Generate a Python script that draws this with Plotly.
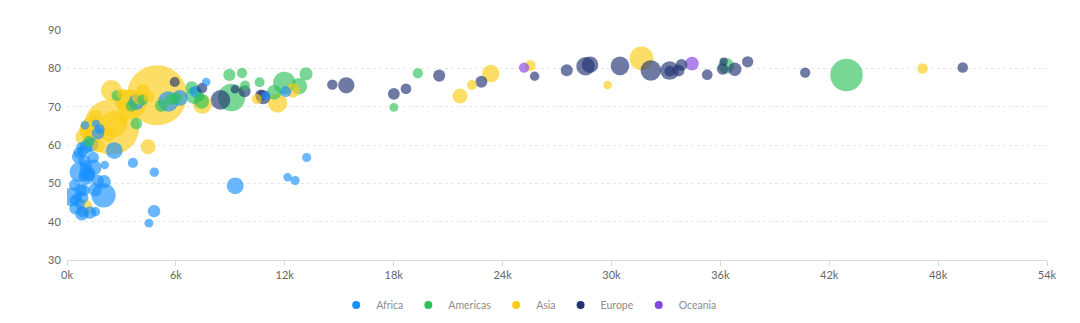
import numpy as np
import plotly.graph_objects as go

country = ["Afghanistan", "Albania", "Algeria", "Angola", "Argentina", "Australia", "Austria", "Bahrain",
           "Bangladesh", "Belgium", "Benin", "Bolivia", "Bosnia and Herzegovina", "Botswana", "Brazil",
           "Bulgaria", "Burkina Faso", "Burundi", "Cambodia", "Cameroon", "Canada", "Central African Republic",
           "Chad", "Chile", "China", "Colombia", "Comoros", "Congo, Dem. Rep.", "Congo, Rep.", "Costa Rica",
           "Cote d'Ivoire", "Croatia", "Cuba", "Czech Republic", "Denmark", "Djibouti", "Dominican Republic",
           "Ecuador", "Egypt", "El Salvador", "Equatorial Guinea", "Eritrea", "Ethiopia", "Finland", "France",
           "Gabon", "Gambia", "Germany", "Ghana", "Greece", "Guatemala", "Guinea", "Guinea-Bissau", "Haiti",
           "Honduras", "Hungary", "Iceland", "India", "Indonesia", "Iran", "Iraq", "Ireland", "Israel", "Italy",
           "Jamaica", "Japan", "Jordan", "Kenya", "Korea, Dem. Rep.", "Korea, Rep.", "Lebanon", "Lesotho",
           "Liberia", "Libya", "Madagascar", "Malawi", "Malaysia", "Mali", "Mauritania", "Mauritius", "Mexico",
           "Mongolia", "Montenegro", "Morocco", "Mozambique", "Myanmar", "Namibia", "Nepal", "Netherlands",
           "New Zealand", "Nicaragua", "Niger", "Nigeria", "Norway", "Oman", "Pakistan", "Panama", "Paraguay",
           "Peru", "Philippines", "Poland", "Portugal", "Puerto Rico", "Reunion", "Romania", "Rwanda",
           "Sao Tome and Principe", "Saudi Arabia", "Senegal", "Serbia", "Sierra Leone", "Singapore",
           "Slovak Republic", "Slovenia", "Somalia", "South Africa", "Spain", "Sri Lanka", "Sudan", "Swaziland",
           "Sweden", "Switzerland", "Syria", "Tanzania", "Thailand", "Togo", "Trinidad and Tobago", "Tunisia",
           "Turkey", "Uganda", "United Kingdom", "United States", "Uruguay", "Venezuela", "Vietnam",
           "West Bank and Gaza", "Yemen, Rep.", "Zambia", "Zimbabwe"]

continent = ["Asia", "Europe", "Africa", "Africa", "Americas", "Oceania", "Europe", "Asia",
             "Asia", "Europe", "Africa", "Americas", "Europe", "Africa", "Americas",
             "Europe", "Africa", "Africa", "Asia", "Africa", "Americas", "Africa",
             "Africa", "Americas", "Asia", "Americas", "Africa", "Africa", "Africa", "Americas",
             "Africa", "Europe", "Americas", "Europe", "Europe", "Africa", "Americas",
             "Americas", "Africa", "Americas", "Africa", "Africa", "Africa", "Europe", "Europe",
             "Africa", "Africa", "Europe", "Africa", "Europe", "Americas", "Africa", "Africa", "Americas",
             "Americas", "Europe", "Europe", "Asia", "Asia", "Asia", "Asia", "Europe", "Asia", "Europe",
             "Americas", "Asia", "Asia", "Africa", "Asia", "Asia", "Asia", "Africa",
             "Africa", "Africa", "Africa", "Africa", "Asia", "Africa", "Africa", "Africa", "Americas",
             "Asia", "Europe", "Africa", "Africa", "Asia", "Africa", "Asia", "Europe",
             "Oceania", "Americas", "Africa", "Africa", "Europe", "Asia", "Asia", "Americas", "Americas",
             "Americas", "Asia", "Europe", "Europe", "Americas", "Africa", "Europe", "Africa",
             "Africa", "Asia", "Africa", "Europe", "Africa", "Asia",
             "Europe", "Europe", "Africa", "Africa", "Europe", "Asia", "Africa", "Africa",
             "Europe", "Europe", "Asia", "Africa", "Asia", "Africa", "Americas", "Africa",
             "Europe", "Africa", "Europe", "Americas", "Americas", "Americas", "Asia",
             "Asia", "Asia", "Africa", "Africa"]

life_expectancy = [43.828, 76.423, 72.301, 42.731, 75.320, 81.235, 79.829, 75.635,
                   64.062, 79.441, 56.728, 65.554, 74.852, 50.728, 72.390,
                   73.005, 52.295, 49.580, 59.723, 50.430, 80.653, 44.741,
                   50.651, 78.553, 72.961, 72.889, 65.152, 46.462, 55.322, 78.782,
                   48.328, 75.748, 78.273, 76.486, 78.332, 54.791, 72.235,
                   74.994, 71.338, 71.878, 51.579, 58.040, 52.947, 79.313, 80.657,
                   56.735, 59.448, 79.406, 60.022, 79.483, 70.259, 56.007, 46.388, 60.916,
                   70.198, 73.338, 81.757, 64.698, 70.650, 70.964, 59.545, 78.885, 80.745, 80.546,
                   72.567, 82.603, 72.535, 54.110, 67.297, 78.623, 71.993, 42.592,
                   45.678, 73.952, 59.443, 48.303, 74.241, 54.467, 64.164, 72.801, 76.195,
                   66.803, 74.543, 71.164, 42.082, 62.069, 52.906, 63.785, 79.762,
                   80.204, 72.899, 56.867, 46.859, 80.196, 75.640, 65.483, 75.537, 71.752,
                   71.421, 71.688, 75.563, 78.098, 78.746, 76.442, 72.476, 46.242,
                   65.528, 72.777, 63.062, 74.002, 42.568, 79.972,
                   74.663, 77.926, 48.159, 49.339, 80.941, 72.396, 58.556, 39.613,
                   80.884, 81.701, 74.143, 52.517, 70.616, 58.420, 69.819, 73.923,
                   71.777, 51.542, 79.425, 78.242, 76.384, 73.747, 74.249,
                   73.422, 62.698, 42.384, 43.487]

gdp_per_capita = [975, 5937, 6223, 4797, 12779, 34435, 36126, 29796,
                  1391, 33693, 1441, 3822, 7446, 12570, 9066,
                  10681, 1217, 430, 1714, 2042, 36319, 706,
                  1704, 13172, 4959, 7007, 986, 278, 3633, 9645,
                  1545, 14619, 8948, 22833, 35278, 2082, 6025,
                  6873, 5581, 5728, 12154, 641, 691, 33207, 30470,
                  13206, 753, 32170, 1328, 27538, 5186, 943, 579, 1202,
                  3548, 18009, 36181, 2452, 3541, 11606, 4471, 40676, 25523, 28570,
                  7321, 31656, 4519, 1463, 1593, 23348, 10461, 1569,
                  415, 12057, 1045, 759, 12452, 1043, 1803, 10957, 11978,
                  3096, 9254, 3820, 824, 944, 4811, 1091, 36798,
                  25185, 2749, 620, 2014, 49357, 22316, 2606, 9809, 4173,
                  7409, 3190, 15390, 20510, 19329, 7670, 10808, 863,
                  1598, 21655, 1712, 9787, 863, 47143,
                  18678, 25768, 926, 9270, 28821, 3970, 2602, 4513,
                  33860, 37506, 4185, 1107, 7458, 883, 18009, 7093,
                  8458, 1056, 33203, 42952, 10611, 11416, 2442,
                  3025, 2281, 1271, 470]

population = [31889923, 3600523, 33333216, 12420476, 40301927, 20434176, 8199783, 708573,
              150448339, 10392226, 8078314, 9119152, 4552198, 1639131, 190010647,
              7322858, 14326203, 8390505, 14131858, 17696293, 33390141, 4369038,
              10238807, 16284741, 1318683096, 44227550, 710960, 64606759, 3800610, 4133884,
              18013409, 4493312, 11416987, 10228744, 5468120, 496374, 9319622,
              13755680, 80264543, 6939688, 551201, 4906585, 76511887, 5238460, 61083916,
              1454867, 1688359, 82400996, 22873338, 10706290, 12572928, 9947814, 1472041, 8502814,
              7483763, 9956108, 301931, 1110396331, 223547000, 69453570, 27499638, 4109086, 6426679, 58147733,
              2780132, 127467972, 6053193, 35610177, 23301725, 49044790, 3921278, 2012649,
              3193942, 6036914, 19167654, 13327079, 24821286, 12031795, 3270065, 1250882, 108700891,
              2874127, 684736, 33757175, 19951656, 47761980, 2055080, 28901790, 16570613,
              4115771, 5675356, 12894865, 135031164, 4627926, 3204897, 169270617, 3242173, 6667147,
              28674757, 91077287, 38518241, 10642836, 3942491, 798094, 22276056, 8860588,
              199579, 27601038, 12267493, 10150265, 6144562, 4553009,
              5447502, 2009245, 9118773, 43997828, 40448191, 20378239, 42292929, 1133066,
              9031088, 7554661, 19314747, 38139640, 65068149, 5701579, 1056608, 10276158,
              71158647, 29170398, 60776238, 301139947, 3447496, 26084662, 85262356,
              4018332, 22211743, 11746035, 12311143]

continents = ["Africa", "Americas", "Asia", "Europe", "Oceania"]
continent_colors = {"Africa": "#1890FF", "Americas": "#2FC25B", "Asia": "#FACC14",
                    "Europe": "#223273", "Oceania": "#8543E0"}

x_tick_vals = [0, 6000, 12000, 18000, 24000, 30000, 36000, 42000, 48000, 54000]
x_tick_text = ["0k", "6k", "12k", "18k", "24k", "30k", "36k", "42k", "48k", "54k"]
y_tick_vals = [30, 40, 50, 60, 70, 80, 90]

# sqrt size scale: population -> radius [4, 30]
pop = np.array(population, dtype=float)
sq = np.sqrt(pop)
radius = 4 + 26 * (sq - sq.min()) / (sq.max() - sq.min())
order = np.argsort(-pop, kind="stable")  # big bubbles underneath

fig = go.Figure()
fig.add_trace(go.Scatter(
    x=[gdp_per_capita[i] for i in order],
    y=[life_expectancy[i] for i in order],
    mode="markers",
    text=[country[i] for i in order],
    marker=dict(
        size=[2 * radius[i] for i in order],
        sizemode="diameter",
        color=[continent_colors[continent[i]] for i in order],
        opacity=0.65,
        line=dict(width=0),
    ),
    showlegend=False,
    hovertemplate="%{text}<br>GDP: %{x}<br>Life: %{y}<extra></extra>",
))
for c in continents:
    fig.add_trace(go.Scatter(
        x=[None], y=[None], mode="markers", name=c,
        marker=dict(size=8, color=continent_colors[c], symbol="circle"),
        showlegend=True,
    ))

font_family = "Segoe UI, Lato, Noto Sans, sans-serif"
fig.update_layout(
    width=1080, height=323,
    margin=dict(l=67, r=33, t=30, b=63, autoexpand=False),
    paper_bgcolor="white", plot_bgcolor="white",
    font=dict(family=font_family, size=11, color="#666666"),
    xaxis=dict(
        range=[0, 54000], tickvals=x_tick_vals, ticktext=x_tick_text,
        showgrid=False, zeroline=False,
        showline=True, linecolor="#d9d9d9", linewidth=1,
        ticks="outside", ticklen=5, tickcolor="#d9d9d9",
        tickfont=dict(size=11, color="#666666"),
    ),
    yaxis=dict(
        range=[30, 90], tickvals=y_tick_vals,
        showgrid=True, gridcolor="#e8e8e8", griddash="3px,3px", gridwidth=1,
        zeroline=False, showline=False,
        ticks="outside", ticklen=3, tickcolor="rgba(0,0,0,0)",
        tickfont=dict(size=11, color="#666666"),
    ),
    legend=dict(
        orientation="h", xref="container", x=0.49, xanchor="center",
        yref="container", y=(323 - 305) / 323, yanchor="middle",
        font=dict(size=10.5, color="#8c8c8c"), itemwidth=30,
        bgcolor="rgba(0,0,0,0)",
    ),
)

fig.write_html("out.html")
